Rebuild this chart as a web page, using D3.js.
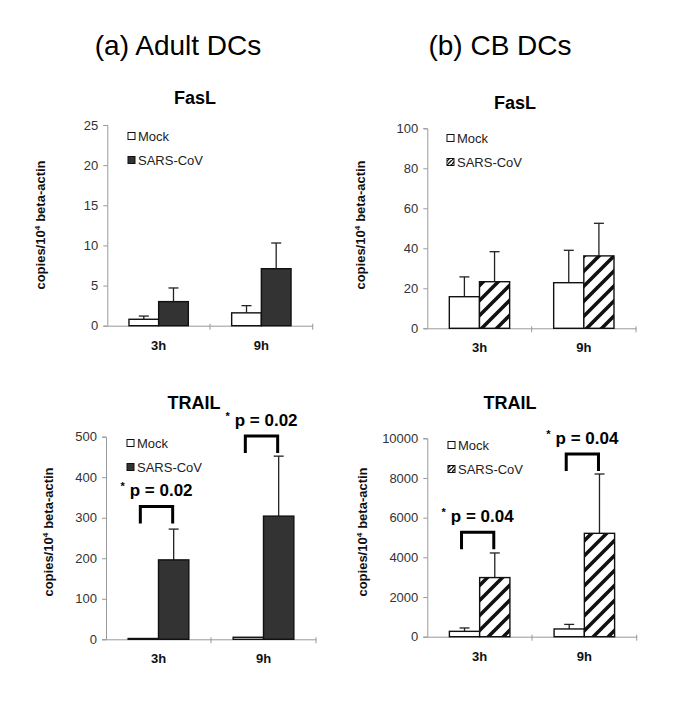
<!DOCTYPE html>
<html><head><meta charset="utf-8">
<script src="https://cdn.jsdelivr.net/npm/d3@7"></script>
<style>body{margin:0;background:#fff}svg{display:block}</style>
</head><body>
<script>
// ---------------- data ----------------
const categories = ["3h", "9h"];
const seriesNames = ["Mock", "SARS-CoV"];

const adultFasLMock = [0.8, 1.6];
const adultFasLSars = [3.0, 7.1];
const adultFasLMockErr = [1.2, 2.5];
const adultFasLSarsErr = [4.7, 10.3];
const adultFasLTicks = [0, 5, 10, 15, 20, 25];

const cbFasLMock = [15.8, 22.8];
const cbFasLSars = [23.3, 36.2];
const cbFasLMockErr = [25.7, 39.0];
const cbFasLSarsErr = [38.3, 52.5];
const cbFasLTicks = [0, 20, 40, 60, 80, 100];

const adultTrailMock = [2, 5];
const adultTrailSars = [196, 304];
const adultTrailMockErr = [2, 5];
const adultTrailSarsErr = [272, 452];
const adultTrailTicks = [0, 100, 200, 300, 400, 500];
const adultTrailP = ["p = 0.02", "p = 0.02"];
const adultTrailBracket = [328, 502];

const cbTrailMock = [270, 390];
const cbTrailSars = [2980, 5210];
const cbTrailMockErr = [440, 620];
const cbTrailSarsErr = [4220, 8200];
const cbTrailTicks = [0, 2000, 4000, 6000, 8000, 10000];
const cbTrailP = ["p = 0.04", "p = 0.04"];
const cbTrailBracket = [5265, 9213];

const headers = ["(a) Adult DCs", "(b) CB DCs"];
const titles = ["FasL", "FasL", "TRAIL", "TRAIL"];

// ---------------- drawing ----------------
const W = 685, H = 704;
const svg = d3.select("body").append("svg").attr("width", W).attr("height", H);
const defs = svg.append("defs");
const pat = defs.append("pattern").attr("id", "hatch").attr("patternUnits", "userSpaceOnUse")
  .attr("width", 15).attr("height", 15);
pat.append("rect").attr("width", 15).attr("height", 15).attr("fill", "#fff");
pat.append("path").attr("d", "M-2,17 L17,-2 M-5,5 L5,-5 M10,20 L20,10")
  .attr("stroke", "#111").attr("stroke-width", 3.6);
const pat2 = defs.append("pattern").attr("id", "hatchSmall").attr("patternUnits", "userSpaceOnUse")
  .attr("width", 4).attr("height", 4);
pat2.append("rect").attr("width", 4).attr("height", 4).attr("fill", "#fff");
pat2.append("path").attr("d", "M-1,5 L5,-1 M-2,2 L2,-2 M3,6 L6,3").attr("stroke", "#111").attr("stroke-width", 1.4);

const FONT = "'Liberation Sans', Arial, Helvetica, sans-serif";

svg.append("text").attr("x", 178).attr("y", 55).attr("text-anchor", "middle")
  .attr("font-family", FONT).attr("font-size", 28).text(headers[0]);
svg.append("text").attr("x", 500).attr("y", 55).attr("text-anchor", "middle")
  .attr("font-family", FONT).attr("font-size", 28).text(headers[1]);

function panel(cfg) {
  const g = svg.append("g");
  const y = d3.scaleLinear().domain([0, cfg.ticks[cfg.ticks.length - 1]]).range([cfg.y0, cfg.y1]);
  const x = d3.scaleBand().domain(categories).range([cfg.x0, cfg.x1]).paddingInner(0).paddingOuter(0);
  const xs = d3.scaleBand().domain(seriesNames).range([0, x.bandwidth()]).paddingInner(0).paddingOuter(0.73);

  // y axis
  const ya = g.append("g").attr("transform", `translate(${cfg.x0},0)`)
    .call(d3.axisLeft(y).tickValues(cfg.ticks).tickSize(4).tickPadding(5).tickFormat(d3.format("d")));
  ya.select(".domain").attr("stroke", "#999");
  ya.selectAll(".tick line").attr("stroke", "#999");
  ya.selectAll(".tick text").attr("font-family", FONT).attr("font-size", 13).attr("fill", "#333");

  // x axis
  const xa = g.append("g").attr("transform", `translate(0,${cfg.y0})`)
    .call(d3.axisBottom(x).tickSize(0).tickPadding(0));
  xa.select(".domain").attr("stroke", "#999");
  xa.selectAll(".tick text").attr("font-family", FONT).attr("font-size", 13)
    .attr("font-weight", "bold").attr("fill", "#111").attr("dy", 24).attr("y", 0);
  // category divider ticks
  g.selectAll(".divtick").data(categories).enter().append("line")
    .attr("x1", d => x(d) + x.bandwidth()).attr("x2", d => x(d) + x.bandwidth())
    .attr("y1", cfg.y0 - 2).attr("y2", cfg.y0 + 4).attr("stroke", "#999");

  // bars
  const rows = [];
  categories.forEach((c, i) => {
    rows.push({ c, s: seriesNames[0], v: cfg.mock[i], e: cfg.mockErr[i] });
    rows.push({ c, s: seriesNames[1], v: cfg.sars[i], e: cfg.sarsErr[i] });
  });
  const bx = d => x(d.c) + xs(d.s);
  rows.filter(d => d.e > d.v).forEach(d => {
    const cx = bx(d) + xs.bandwidth() / 2;
    g.append("line").attr("x1", cx).attr("x2", cx).attr("y1", y(d.v)).attr("y2", y(d.e))
      .attr("stroke", "#222").attr("stroke-width", 1.3);
    g.append("line").attr("x1", cx - 5).attr("x2", cx + 5).attr("y1", y(d.e)).attr("y2", y(d.e))
      .attr("stroke", "#222").attr("stroke-width", 1.3);
  });
  g.selectAll(".bar").data(rows).enter().append("rect")
    .attr("x", bx).attr("width", xs.bandwidth())
    .attr("y", d => y(d.v)).attr("height", d => cfg.y0 - y(d.v))
    .attr("fill", d => d.s === "Mock" ? "#fff" : (cfg.hatch ? "url(#hatch)" : "#333"))
    .attr("stroke", "#111").attr("stroke-width", 1.4);

  // title
  g.append("text").attr("x", cfg.tx).attr("y", cfg.ty).attr("text-anchor", "middle")
    .attr("font-family", FONT).attr("font-size", 18).attr("font-weight", "bold").text(cfg.title);

  // y label
  const yl = g.append("text").attr("transform", `translate(${cfg.lx},${cfg.ly}) rotate(-90)`)
    .attr("text-anchor", "middle").attr("font-family", FONT).attr("font-size", 13)
    .attr("font-weight", "bold").attr("fill", "#111");
  yl.append("tspan").text("copies/10");
  yl.append("tspan").attr("font-size", 8).attr("dy", -5).text("4");
  yl.append("tspan").attr("dy", 5).attr("dx", 4).text("beta-actin");

  // legend
  seriesNames.forEach((s, i) => {
    const ly = cfg.legY + i * 24;
    g.append("rect").attr("x", cfg.legX).attr("y", ly - 3.5).attr("width", 7).attr("height", 7)
      .attr("fill", i === 0 ? "#fff" : (cfg.hatch ? "url(#hatchSmall)" : "#333"))
      .attr("stroke", "#111").attr("stroke-width", 1);
    g.append("text").attr("x", cfg.legX + 10).attr("y", ly + 4.5)
      .attr("font-family", FONT).attr("font-size", 13).attr("fill", "#222").text(s);
  });

  // significance brackets
  if (cfg.bracket) {
    categories.forEach((c, i) => {
      const xl = x(c) + xs(seriesNames[0]) + xs.bandwidth() / 2 - 3;
      const xr = x(c) + xs(seriesNames[1]) + xs.bandwidth() / 2 - 1;
      const yt = y(cfg.bracket[i]);
      g.append("path").attr("d", `M${xl},${yt + 17}V${yt}H${xr}V${yt + 17}`)
        .attr("fill", "none").attr("stroke", "#000").attr("stroke-width", 3);
      const t = g.append("text").attr("x", (xl + xr) / 2).attr("y", yt - 10)
        .attr("text-anchor", "middle").attr("font-family", FONT).attr("font-weight", "bold");
      t.append("tspan").attr("font-size", 11).attr("dy", -6).text("*");
      t.append("tspan").attr("font-size", 17).attr("dy", 6).attr("dx", 5).text(cfg.p[i]);
    });
  }
}

panel({ x0: 107.3, x1: 312.7, y0: 325.7, y1: 125, ticks: adultFasLTicks,
  mock: adultFasLMock, sars: adultFasLSars, mockErr: adultFasLMockErr, sarsErr: adultFasLSarsErr,
  hatch: false, title: titles[0], tx: 195, ty: 104, lx: 45, ly: 225, legX: 128, legY: 136 });
panel({ x0: 427.3, x1: 636, y0: 328.3, y1: 128.3, ticks: cbFasLTicks,
  mock: cbFasLMock, sars: cbFasLSars, mockErr: cbFasLMockErr, sarsErr: cbFasLSarsErr,
  hatch: true, title: titles[1], tx: 515, ty: 109, lx: 365, ly: 225, legX: 447, legY: 138 });
panel({ x0: 106, x1: 316, y0: 639.3, y1: 436.7, ticks: adultTrailTicks,
  mock: adultTrailMock, sars: adultTrailSars, mockErr: adultTrailMockErr, sarsErr: adultTrailSarsErr,
  hatch: false, title: titles[2], tx: 194, ty: 409, lx: 53, ly: 532, legX: 127, legY: 443,
  bracket: adultTrailBracket, p: adultTrailP });
panel({ x0: 427.3, x1: 636.7, y0: 636.7, y1: 438.3, ticks: cbTrailTicks,
  mock: cbTrailMock, sars: cbTrailSars, mockErr: cbTrailMockErr, sarsErr: cbTrailSarsErr,
  hatch: true, title: titles[3], tx: 510, ty: 409, lx: 367, ly: 532, legX: 448, legY: 445,
  bracket: cbTrailBracket, p: cbTrailP });
</script>
</body></html>
